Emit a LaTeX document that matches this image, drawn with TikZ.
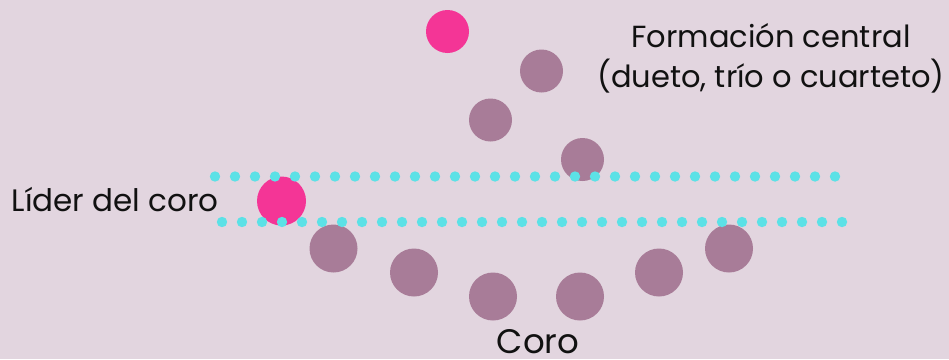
\documentclass[tikz,border=0pt]{standalone}
\usepackage{fontspec}
\setmainfont{Poppins}
\definecolor{bg}{HTML}{E2D5DF}
\definecolor{pinkc}{HTML}{F43596}
\definecolor{purp}{HTML}{A87C98}
\definecolor{cyanc}{HTML}{5CE1E6}
\definecolor{txt}{HTML}{111111}
\begin{document}
\begin{tikzpicture}[x=1pt,y=-1pt,
  singer/.style={circle,fill=purp,inner sep=0pt,minimum size=#1},
  lead/.style={circle,fill=pinkc,inner sep=0pt,minimum size=#1},
  lbl/.style={text=txt,inner sep=0pt,font=\fontsize{30.5}{40}\selectfont}]
\useasboundingbox[fill=bg] (0,0) rectangle (949,359);
% central formation
\node[lead=43pt] (c0) at (447.5,31.5) {};
\node[singer=43pt] (c1) at (541.5,71) {};
\node[singer=43pt] (c2) at (490.5,120) {};
\node[singer=43pt] (c3) at (582.5,159.5) {};
% choir leader
\node[lead=49pt] (leader) at (281.5,201) {};
% choir
\node[singer=48pt] (k1) at (333.5,248.5) {};
\node[singer=48pt] (k2) at (414,272.5) {};
\node[singer=48pt] (k3) at (493,296.5) {};
\node[singer=48pt] (k4) at (580,296.5) {};
\node[singer=48pt] (k5) at (659,272.5) {};
\node[singer=48pt] (k6) at (729,248.5) {};
% dotted lines
\foreach \i in {0,...,31}{
  \fill[cyanc] (215+20*\i,176.5) circle (5.2);
  \fill[cyanc] (222+20*\i,222) circle (5.2);
}
% labels
\node[lbl,align=center] (form) at (771,58) {Formación central\\(dueto, trío o cuarteto)};
\node[lbl,anchor=east,font=\fontsize{31}{40}\selectfont] (lid) at (219,200) {Líder del coro};
\node[lbl,font=\fontsize{34}{40}\selectfont] (coro) at (538,342) {Coro};
\end{tikzpicture}
\end{document}
